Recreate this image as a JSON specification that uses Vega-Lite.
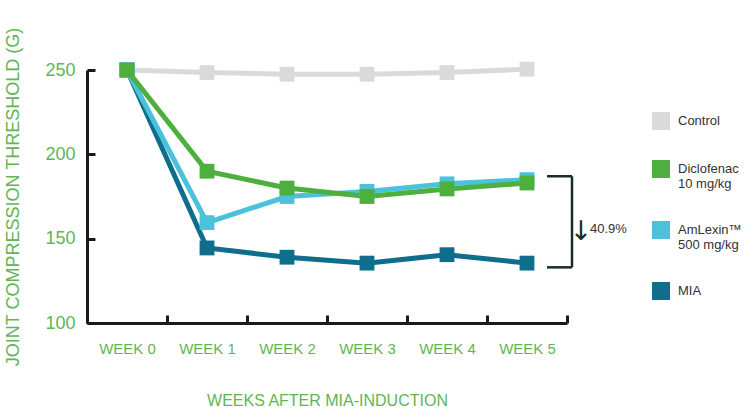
{
  "$schema": "https://vega.github.io/schema/vega-lite/v6.json",
  "width": 480,
  "height": 253,
  "autosize": {"type": "none"},
  "padding": {"left": 87, "top": 70, "right": 177, "bottom": 91},
  "background": "white",
  "config": {
    "view": {"stroke": null},
    "font": "Liberation Sans",
    "axis": {
      "domainColor": "#1a1a1a",
      "domainWidth": 3,
      "tickColor": "#1a1a1a",
      "tickWidth": 3,
      "tickSize": -8,
      "grid": false,
      "labelColor": "#62b555",
      "titleColor": "#62b555",
      "titleFontWeight": "normal"
    }
  },
  "data": {
    "values": [
      {"series": "Control", "week": "WEEK 0", "value": 250},
      {"series": "Control", "week": "WEEK 1", "value": 248.5},
      {"series": "Control", "week": "WEEK 2", "value": 247.5},
      {"series": "Control", "week": "WEEK 3", "value": 247.5},
      {"series": "Control", "week": "WEEK 4", "value": 248.5},
      {"series": "Control", "week": "WEEK 5", "value": 250.5},
      {"series": "MIA", "week": "WEEK 0", "value": 250},
      {"series": "MIA", "week": "WEEK 1", "value": 144.5},
      {"series": "MIA", "week": "WEEK 2", "value": 139},
      {"series": "MIA", "week": "WEEK 3", "value": 135.5},
      {"series": "MIA", "week": "WEEK 4", "value": 140.5},
      {"series": "MIA", "week": "WEEK 5", "value": 135.5},
      {"series": "AmLexin™ 500 mg/kg", "week": "WEEK 0", "value": 250},
      {"series": "AmLexin™ 500 mg/kg", "week": "WEEK 1", "value": 159.5},
      {"series": "AmLexin™ 500 mg/kg", "week": "WEEK 2", "value": 175},
      {"series": "AmLexin™ 500 mg/kg", "week": "WEEK 3", "value": 178},
      {"series": "AmLexin™ 500 mg/kg", "week": "WEEK 4", "value": 182.5},
      {"series": "AmLexin™ 500 mg/kg", "week": "WEEK 5", "value": 185},
      {"series": "Diclofenac 10 mg/kg", "week": "WEEK 0", "value": 250},
      {"series": "Diclofenac 10 mg/kg", "week": "WEEK 1", "value": 190},
      {"series": "Diclofenac 10 mg/kg", "week": "WEEK 2", "value": 180},
      {"series": "Diclofenac 10 mg/kg", "week": "WEEK 3", "value": 175},
      {"series": "Diclofenac 10 mg/kg", "week": "WEEK 4", "value": 179.5},
      {"series": "Diclofenac 10 mg/kg", "week": "WEEK 5", "value": 183}
    ]
  },
  "encoding": {
    "x": {
      "field": "week",
      "type": "nominal",
      "scale": {"type": "band", "paddingInner": 0, "paddingOuter": 0},
      "axis": {
        "title": "WEEKS AFTER MIA-INDUCTION",
        "tickBand": "extent",
        "labelAngle": 0,
        "labelFontSize": 15,
        "labelPadding": 26,
        "titleFontSize": 16,
        "titlePadding": 36
      }
    },
    "y": {
      "field": "value",
      "type": "quantitative",
      "scale": {"domain": [100, 250], "nice": false, "zero": false},
      "axis": {
        "title": "JOINT COMPRESSION THRESHOLD (G)",
        "values": [100, 150, 200, 250],
        "labelFontSize": 18,
        "labelPadding": 20,
        "titleFontSize": 18,
        "titlePadding": 22
      }
    }
  },
  "layer": [
    {
      "mark": {"type": "line", "strokeWidth": 5, "clip": false},
      "encoding": {
        "color": {
          "field": "series",
          "type": "nominal",
          "scale": {
            "domain": ["Control", "Diclofenac 10 mg/kg", "AmLexin™ 500 mg/kg", "MIA"],
            "range": ["#dadada", "#4caf3e", "#4cc2da", "#0e6e8c"]
          },
          "legend": {
            "title": null,
            "orient": "none",
            "legendX": 565,
            "legendY": 42,
            "symbolType": "square",
            "symbolSize": 324,
            "symbolStrokeWidth": 0,
            "symbolOpacity": 1,
            "labelFontSize": 13,
            "labelColor": "#333333",
            "labelOffset": 8,
            "rowPadding": 30,
            "labelExpr": "datum.label == 'Diclofenac 10 mg/kg' ? ['Diclofenac', '10 mg/kg'] : datum.label == 'AmLexin™ 500 mg/kg' ? ['AmLexin™', '500 mg/kg'] : datum.label"
          }
        }
      }
    },
    {
      "mark": {"type": "point", "shape": "square", "filled": true, "size": 220, "opacity": 1, "clip": false},
      "encoding": {
        "color": {"field": "series", "type": "nominal", "legend": null}
      }
    },
    {
      "data": {"values": [{"y": 187}, {"y": 133}]},
      "mark": {"type": "rule", "color": "#1a2e22", "strokeWidth": 2.5, "x2Offset": 5, "clip": false},
      "encoding": {
        "x": {"datum": "WEEK 5", "type": "nominal", "bandPosition": 0.75},
        "x2": {"datum": "WEEK 5", "bandPosition": 1},
        "y": {"field": "y", "type": "quantitative"}
      }
    },
    {
      "data": {"values": [{"y": 187, "y2": 133}]},
      "mark": {"type": "rule", "color": "#1a2e22", "strokeWidth": 2.5, "xOffset": 5, "clip": false},
      "encoding": {
        "x": {"datum": "WEEK 5", "type": "nominal", "bandPosition": 1},
        "y": {"field": "y", "type": "quantitative"},
        "y2": {"field": "y2"}
      }
    },
    {
      "data": {"values": [{"t": "↓", "y": 154}]},
      "mark": {"type": "text", "fontSize": 27, "color": "#1a2e22", "xOffset": 14, "font": "DejaVu Sans", "clip": false},
      "encoding": {
        "x": {"datum": "WEEK 5", "type": "nominal", "bandPosition": 1},
        "y": {"field": "y", "type": "quantitative"},
        "text": {"field": "t"}
      }
    },
    {
      "data": {"values": [{"t": "40.9%", "y": 156}]},
      "mark": {"type": "text", "fontSize": 13, "color": "#333333", "align": "left", "xOffset": 23, "clip": false},
      "encoding": {
        "x": {"datum": "WEEK 5", "type": "nominal", "bandPosition": 1},
        "y": {"field": "y", "type": "quantitative"},
        "text": {"field": "t"}
      }
    }
  ]
}
